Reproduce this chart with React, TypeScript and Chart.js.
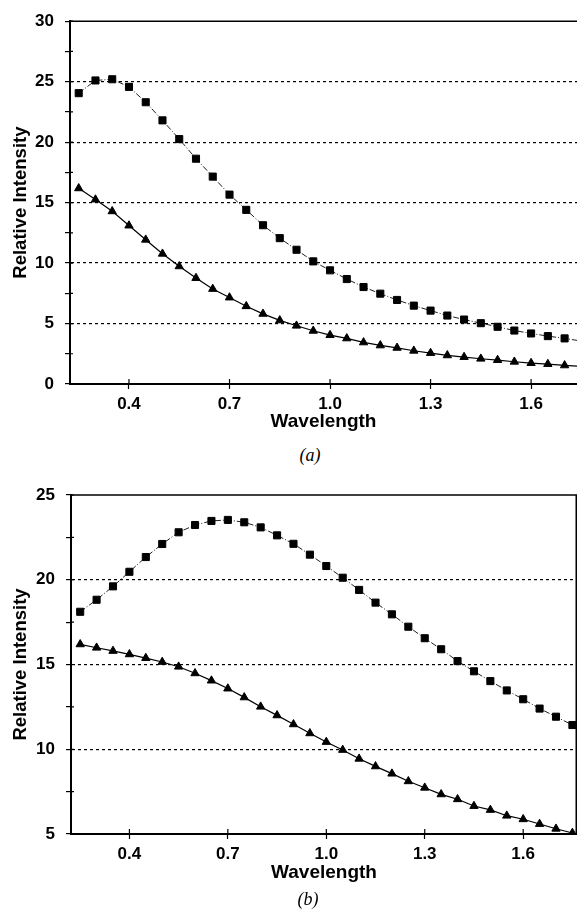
import React, { useEffect, useRef } from 'react';
import { Chart, registerables } from 'chart.js';

Chart.register(...registerables);

const wavelengths = [
  0.25, 0.3, 0.35, 0.4, 0.45, 0.5, 0.55, 0.6, 0.65, 0.7, 0.75, 0.8, 0.85, 0.9, 0.95, 1.0,
  1.05, 1.1, 1.15, 1.2, 1.25, 1.3, 1.35, 1.4, 1.45, 1.5, 1.55, 1.6, 1.65, 1.7, 1.75,
];

const aSquares = [
  24.05, 25.1, 25.2, 24.57, 23.3, 21.8, 20.25, 18.63, 17.15, 15.66, 14.4, 13.13, 12.06, 11.1, 10.14, 9.4,
  8.68, 8.02, 7.47, 6.95, 6.48, 6.07, 5.66, 5.33, 5.03, 4.73, 4.42, 4.18, 3.96, 3.77, 3.55,
];
const aTriangles = [
  16.18, 15.25, 14.28, 13.1, 11.93, 10.77, 9.73, 8.76, 7.86, 7.15, 6.43, 5.8, 5.26, 4.82, 4.4, 4.04,
  3.77, 3.44, 3.19, 2.99, 2.75, 2.56, 2.37, 2.23, 2.09, 1.98, 1.84, 1.73, 1.65, 1.54, 1.45,
];
const bSquares = [
  18.11, 18.82, 19.61, 20.47, 21.34, 22.11, 22.8, 23.23, 23.47, 23.53, 23.39, 23.09, 22.62, 22.12, 21.48, 20.81,
  20.12, 19.4, 18.65, 17.96, 17.23, 16.55, 15.9, 15.2, 14.6, 14.02, 13.47, 12.95, 12.4, 11.92, 11.43,
];
const bTriangles = [
  16.19, 15.99, 15.8, 15.6, 15.38, 15.15, 14.87, 14.48, 14.05, 13.58, 13.06, 12.51, 12.0, 11.47, 10.94, 10.43,
  9.96, 9.44, 8.99, 8.56, 8.11, 7.73, 7.34, 7.05, 6.65, 6.42, 6.08, 5.87, 5.59, 5.31, 5.06,
];

const xTickValues = [0.4, 0.7, 1.0, 1.3, 1.6];
const aYTicks = [0, 5, 10, 15, 20, 25, 30];
const bYTicks = [5, 10, 15, 20, 25];

const SANS = '"Liberation Sans", Arial, Helvetica, sans-serif';

const framePlugin = {
  id: 'frame',
  afterDraw(chart: any, _args: any, opts: any) {
    const { ctx, chartArea } = chart;
    const { left, right, top, bottom } = chartArea;
    ctx.save();
    ctx.strokeStyle = '#000';
    ctx.lineWidth = 1.5;
    ctx.beginPath();
    ctx.moveTo(left, top);
    ctx.lineTo(right, top);
    if (opts && opts.right) {
      ctx.moveTo(right - 0.75, top);
      ctx.lineTo(right - 0.75, bottom);
    }
    ctx.stroke();
    // inner parts of tick marks (crossing the axes)
    ctx.lineWidth = 1.2;
    ctx.beginPath();
    const xs = chart.scales.x;
    xs.ticks.forEach((t: any) => {
      const px = xs.getPixelForValue(t.value);
      ctx.moveTo(px, bottom);
      ctx.lineTo(px, bottom - 5);
    });
    const ys = chart.scales.y;
    ys.ticks.forEach((t: any) => {
      const py = ys.getPixelForValue(t.value);
      ctx.moveTo(left, py);
      ctx.lineTo(left + 3, py);
    });
    ctx.stroke();
    ctx.restore();
  },
};

type PanelProps = {
  top: number;
  height: number;
  padTop: number;
  yAxisWidth: number;
  xAxisHeight: number;
  padRight: number;
  xMin: number;
  xMax: number;
  yMin: number;
  yMax: number;
  yTicks: number[];
  squares: number[];
  triangles: number[];
  titlePadBottom: number;
  rightBorder: boolean;
};

function Panel(p: PanelProps) {
  const ref = useRef<HTMLCanvasElement | null>(null);
  useEffect(() => {
    if (!ref.current) return;
    const step = (p.yTicks[1] - p.yTicks[0]) / 2;
    const allY: number[] = [];
    for (let v = p.yMin; v <= p.yMax + 1e-9; v += step) allY.push(Math.round(v * 100) / 100);
    const interior = p.yTicks.filter((v) => v > p.yMin && v < p.yMax);
    const chart = new Chart(ref.current, {
      type: 'line',
      data: {
        datasets: [
          {
            label: 'squares',
            data: wavelengths.map((x, i) => ({ x, y: p.squares[i] })),
            borderColor: '#222',
            borderWidth: 1,
            borderDash: [6, 2, 1, 2],
            pointStyle: 'rect',
            pointRadius: 5,
            pointBackgroundColor: '#000',
            pointBorderColor: '#000',
            pointBorderWidth: 1,
            tension: 0,
            fill: false,
          },
          {
            label: 'triangles',
            data: wavelengths.map((x, i) => ({ x, y: p.triangles[i] })),
            borderColor: '#000',
            borderWidth: 1.2,
            pointStyle: 'triangle',
            pointRadius: 4.8,
            pointBackgroundColor: '#000',
            pointBorderColor: '#000',
            pointBorderWidth: 1,
            tension: 0,
            fill: false,
          },
        ],
      },
      options: {
        responsive: false,
        animation: false,
        devicePixelRatio: 1,
        layout: { autoPadding: false, padding: { top: p.padTop, right: p.padRight, left: 0, bottom: 0 } },
        plugins: {
          legend: { display: false },
          tooltip: { enabled: false },
          frame: { right: p.rightBorder },
        } as any,
        scales: {
          x: {
            type: 'linear',
            min: p.xMin,
            max: p.xMax,
            afterBuildTicks: (s: any) => {
              s.ticks = xTickValues.map((v) => ({ value: v }));
            },
            afterFit: (s: any) => {
              s.height = p.xAxisHeight;
              s.paddingLeft = 0;
              s.paddingRight = 0;
            },
            ticks: {
              autoSkip: false,
              maxRotation: 0,
              padding: 5,
              color: '#000',
              font: { family: SANS, size: 17, weight: 'bold' },
              callback: (v: any) => Number(v).toFixed(1),
            },
            grid: { drawOnChartArea: false, tickLength: 5, tickColor: '#000', tickWidth: 1.2 },
            border: { display: true, color: '#000', width: 2 },
            title: {
              display: true,
              text: 'Wavelength',
              color: '#000',
              font: { family: SANS, size: 19, weight: 'bold', lineHeight: 1.2 },
              padding: { top: 0, bottom: p.titlePadBottom },
            },
          },
          y: {
            type: 'linear',
            min: p.yMin,
            max: p.yMax,
            afterBuildTicks: (s: any) => {
              s.ticks = allY.map((v) => ({ value: v }));
            },
            afterFit: (s: any) => {
              s.width = p.yAxisWidth;
            },
            ticks: {
              autoSkip: false,
              padding: 11,
              color: '#000',
              font: { family: SANS, size: 17, weight: 'bold' },
              callback: (v: any) => (p.yTicks.includes(Number(v)) ? String(v) : ''),
            },
            grid: {
              color: (c: any) => (c.tick && interior.includes(c.tick.value) ? '#000' : 'rgba(0,0,0,0)'),
              lineWidth: 1.2,
              tickLength: 5,
              tickColor: '#000',
              tickWidth: 1.2,
            },
            border: { display: true, color: '#000', width: 2, dash: [3, 3] },
            title: {
              display: true,
              text: 'Relative Intensity',
              color: '#000',
              font: { family: SANS, size: 18.5, weight: 'bold', lineHeight: 1.2 },
              padding: { top: 9.5, bottom: 0 },
            },
          },
        },
      } as any,
      plugins: [framePlugin as any],
    });
    return () => chart.destroy();
  }, []);
  return (
    <canvas
      ref={ref}
      width={577}
      height={p.height}
      style={{ position: 'absolute', left: 0, top: p.top, width: 577, height: p.height }}
    />
  );
}

const captionStyle = (x: number, y: number): React.CSSProperties => ({
  position: 'absolute',
  left: x,
  top: y,
  transform: 'translate(-50%, -50%)',
  fontFamily: '"Liberation Serif", "Times New Roman", serif',
  fontStyle: 'italic',
  fontSize: 18,
  color: '#000',
  whiteSpace: 'nowrap',
});

export default function App() {
  return (
    <div style={{ position: 'absolute', left: 0, top: 0, width: 577, height: 912, background: '#fff' }}>
      <Panel
        top={0}
        height={440}
        padTop={20}
        yAxisWidth={70}
        xAxisHeight={56}
        padRight={0}
        xMin={0.224}
        xMax={1.737}
        yMin={0}
        yMax={30}
        yTicks={aYTicks}
        squares={aSquares}
        triangles={aTriangles}
        titlePadBottom={6.6}
        rightBorder={false}
      />
      <div style={captionStyle(310, 455)}>(a)</div>
      <Panel
        top={460}
        height={440}
        padTop={35}
        yAxisWidth={71}
        xAxisHeight={66}
        padRight={0}
        xMin={0.222}
        xMax={1.764}
        yMin={5}
        yMax={25}
        yTicks={bYTicks}
        squares={bSquares}
        triangles={bTriangles}
        titlePadBottom={15.6}
        rightBorder={true}
      />
      <div style={captionStyle(308, 899)}>(b)</div>
    </div>
  );
}
